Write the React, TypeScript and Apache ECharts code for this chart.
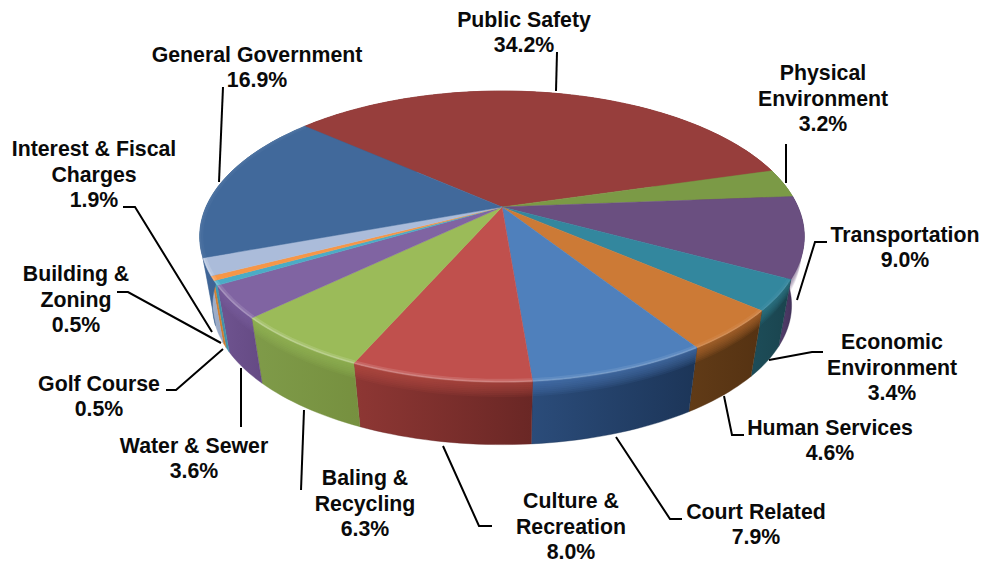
import React, { useEffect, useRef } from "react";
import * as echarts from "echarts";

const categories = ["Public Safety","Physical Environment","Transportation","Economic Environment","Human Services","Court Related","Culture & Recreation","Baling & Recycling","Water & Sewer","Golf Course","Building & Zoning","Interest & Fiscal Charges","General Government"];
const values = [34.2,3.2,9.0,3.4,4.6,7.9,8.0,6.3,3.6,0.5,0.5,1.9,16.9];
const labelTexts = ["Public Safety","Physical\nEnvironment","Transportation","Economic\nEnvironment","Human Services","Court Related","Culture &\nRecreation","Baling &\nRecycling","Water & Sewer","Golf Course","Building &\nZoning","Interest & Fiscal\nCharges","General Government"];

const topColors = ["#973e3c","#7b9a46","#6a4f80","#33879e","#cc7a36","#4f80bc","#c0504d","#9bbb59","#8064a2","#4bacc6","#f79646","#abbcda","#41699b"];
const wallLeft = ["#7a2f2d","#5f7a36","#55406e","#1d4d59","#613b17","#2b4c7a","#8e3734","#7f9b49","#6f5490","#3f93ab","#d8822f","#a3b3cf","#3f6597"];
const wallRight = ["#7a2f2d","#5f7a36","#33254a","#1a444e","#553212","#1c3558","#6a2725","#76903f","#654a84","#3f93ab","#d07a2c","#98a8c4","#3a5f8e"];
const edgeStrength = [0,0,0,0.1,0.2,0.3,0.4,0.45,0.4,0.4,0.4,0.5,0.1];

const labelBoxes: [number, number][] = [[524,32.5],[823,98.5],[905,247.5],[892,367.5],[830,440.5],[756,524.5],[571,526.5],[365,503.5],[194,458.5],[99,396.5],[76,299.5],[94,174.5],[257,67.5]];
const leaders: number[][][] = [
  [[557,52],[556,91]],
  [[786,144],[786,183]],
  [[827,242],[815,242],[797,300]],
  [[823,352],[812,352],[769,360]],
  [[744,435],[732,435],[724,396]],
  [[682,519],[670,519],[616,437]],
  [[492,526],[479,526],[443,446]],
  [[304,410],[301,490]],
  [[241,368],[241,427]],
  [[166,390],[176,390],[223,349]],
  [[117,292],[128,292],[221,343]],
  [[123,207],[135,207],[212,332]],
  [[223,87],[219,182]],
];

const CX = 502, CY = 207, BX = 296, AY = 139.5, PERSP = 0.2027;
const CY2 = 277, SCALE2 = 0.958, START = -49;

function project(deg: number, depth = 0, r = 1) {
  const a = (deg * Math.PI) / 180;
  const u = Math.sin(a) * r, v = -Math.cos(a) * r;
  const w = 1 - PERSP * v;
  const s = 1 + (SCALE2 - 1) * depth;
  const cy = CY + (CY2 - CY) * depth;
  return [CX + (s * BX * u) / w, cy + (s * AY * v) / w];
}

function arc(a0: number, a1: number, depth = 0, r = 1) {
  const n = Math.max(2, Math.ceil((a1 - a0) / 1.5));
  const out: number[][] = [];
  for (let i = 0; i <= n; i++) out.push(project(a0 + ((a1 - a0) * i) / n, depth, r));
  return out;
}

const total = values.reduce((s, x) => s + x, 0);
let running = 0;
const sliceData = values.map((v, i) => {
  const start = START + (running / total) * 360;
  running += v;
  return { name: categories[i], value: [start, START + (running / total) * 360, i, v] };
});

const BAND_STEPS = [0.24, 0.21, 0.18, 0.15, 0.12, 0.09, 0.06, 0.03];

function wallItem(_p: any, api: any) {
  const a0 = api.value(0), a1 = api.value(1), i = api.value(2);
  return {
    type: "group",
    children: [
      {
        type: "polygon",
        shape: { points: [...arc(a0, a1, 0), ...arc(a0, a1, 1).reverse()] },
        style: {
          fill: new echarts.graphic.LinearGradient(0, 0, 1, 0, [
            { offset: 0, color: wallLeft[i] },
            { offset: 1, color: wallRight[i] },
          ]),
          stroke: wallRight[i],
          lineWidth: 0.4,
        },
      },
      ...BAND_STEPS.map((d) => ({
        type: "polygon",
        shape: { points: [...arc(a0, a1, 0), ...arc(a0, a1, d).reverse()] },
        style: { fill: topColors[i], opacity: 0.11 },
      })),
    ],
  };
}

function topItem(_p: any, api: any) {
  const a0 = api.value(0), a1 = api.value(1), i = api.value(2);
  const strength = edgeStrength[i];
  const children: any[] = [
    {
      type: "polygon",
      shape: { points: [project(0, 0, 0), ...arc(a0, a1)] },
      style: { fill: topColors[i], stroke: topColors[i], lineWidth: 0.5 },
    },
  ];
  if (strength > 0) {
    children.push(
      {
        type: "polyline",
        shape: { points: arc(a0, a1, 0, 0.995) },
        style: { fill: "none", stroke: "#ffffff", opacity: strength * 0.3, lineWidth: 4 },
      },
      {
        type: "polyline",
        shape: { points: arc(a0, a1, 0, 0.998) },
        style: { fill: "none", stroke: "#ffffff", opacity: strength * 0.45, lineWidth: 1.5 },
      },
    );
  }
  return { type: "group", children };
}

export default function App() {
  const ref = useRef<HTMLDivElement>(null);
  useEffect(() => {
    const chart = echarts.init(ref.current!, undefined, { renderer: "svg" });
    const textEls = categories.map((_c, i) => ({
      type: "text",
      x: labelBoxes[i][0],
      y: labelBoxes[i][1],
      z: 10,
      style: {
        text: `${labelTexts[i]}\n${values[i].toFixed(1)}%`,
        fill: "#0a0a0a",
        font: 'bold 21.3px "Liberation Sans", Arial, sans-serif',
        lineHeight: 25.5,
        align: "center",
        verticalAlign: "middle",
      },
    }));
    const lineEls = leaders.map((pts) => ({
      type: "polyline",
      z: 9,
      shape: { points: pts },
      style: { fill: "none", stroke: "#000000", lineWidth: 2 },
    }));
    chart.setOption({
      animation: false,
      backgroundColor: "#ffffff",
      series: [
        { type: "custom", coordinateSystem: "none", renderItem: wallItem, data: sliceData, z: 1, silent: true },
        { type: "custom", coordinateSystem: "none", renderItem: topItem, data: sliceData, z: 2, silent: true },
      ],
      graphic: [...lineEls, ...textEls],
    });
    return () => chart.dispose();
  }, []);
  return <div ref={ref} style={{ position: "absolute", left: 0, top: 0, width: 998, height: 564 }} />;
}
